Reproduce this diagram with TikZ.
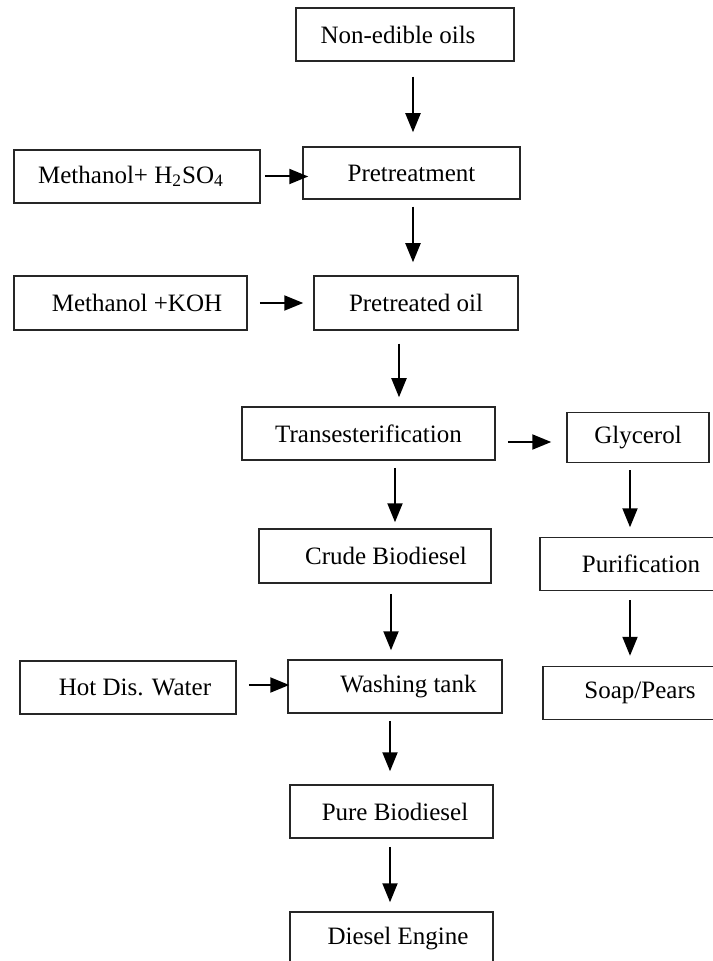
\documentclass[tikz,border=0pt]{standalone}
\usepackage{fontspec}
\setmainfont{Liberation Serif}
\usetikzlibrary{arrows.meta}

\tikzset{
  box/.style={draw=black!85, line width=0.75pt, inner sep=0pt,
    font=\fontsize{12.5pt}{15pt}\selectfont},
  flow/.style={-{Triangle[length=9.5pt,width=7.5pt]}, line width=1pt, black}
}

\begin{document}
\begin{tikzpicture}[x=0.5pt, y=-0.5pt]
  \useasboundingbox (0,0) rectangle (712,961);
  % main column
  \node [box, minimum width=109pt, minimum height=26.5pt] (oils) at (405,34.5) {Non-edible oils\hspace*{7pt}};
  \node [box, minimum width=108.5pt, minimum height=26pt] (pretreat) at (411.5,173) {Pretreatment};
  \node [box, minimum width=102pt, minimum height=27pt] (ptoil) at (416,303) {Pretreated oil};
  \node [box, minimum width=126.5pt, minimum height=26.5pt] (trans) at (368.5,433.5) {Transesterification};
  \node [box, minimum width=116pt, minimum height=27pt] (crude) at (375,556) {\hspace*{11pt}Crude Biodiesel};
  \node [box, minimum width=107pt, minimum height=26.5pt] (washing) at (395,686.5) {\hspace*{13.5pt}Washing tank};
  \node [box, minimum width=101.5pt, minimum height=26.5pt] (pure) at (391.5,811.5) {\hspace*{3.5pt}Pure Biodiesel};
  \node [box, minimum width=101.5pt, minimum height=26.5pt] (diesel) at (391.5,938.5) {\hspace*{6.5pt}Diesel Engine};
  % inputs on the left
  \node [box, minimum width=123pt, minimum height=26.5pt] (acid) at (137,176.5) {Methanol+ H\textsubscript{2}SO\textsubscript{4}\hspace*{6pt}};
  \node [box, minimum width=116.5pt, minimum height=27pt] (base) at (130.5,303) {\hspace*{6.5pt}Methanol +KOH};
  \node [box, minimum width=108pt, minimum height=26.5pt] (water) at (128,687.5) {\hspace*{7pt}Hot Dis. Water};
  % by-product branch
  \node [box, minimum width=71pt, minimum height=25pt] (glycerol) at (638,437.5) {Glycerol};
  \node [box, minimum width=101pt, minimum height=26.5pt] (purif) at (641,564) {Purification};
  \node [box, minimum width=97pt, minimum height=26.5pt] (soap) at (640,693) {Soap/Pears};

  \path [flow]
  ([xshift=4pt]oils.south) edge [shorten <=7.5pt, shorten >=7pt] ([xshift=4pt]oils.south |- pretreat.north)
  (acid.east) edge [shorten <=2pt, shorten >=-3pt] (acid.east -| pretreat.west)
  ([xshift=0.75pt]pretreat.south) edge [shorten <=3.5pt, shorten >=6.5pt] ([xshift=0.75pt]pretreat.south |- ptoil.north)
  (base.east) edge [shorten <=6pt, shorten >=5pt] (base.east -| ptoil.west)
  ([xshift=-8.5pt]ptoil.south) edge [shorten <=6.5pt, shorten >=4.5pt] ([xshift=-8.5pt]ptoil.south |- trans.north)
  ([yshift=-4.25pt]trans.east) edge [shorten <=6pt, shorten >=7.5pt] ([yshift=-4.25pt]trans.east -| glycerol.west)
  ([xshift=13.25pt]trans.south) edge [shorten <=3.5pt, shorten >=3pt] ([xshift=13.25pt]trans.south |- crude.north)
  ([xshift=-4pt]glycerol.south) edge [shorten <=3.5pt, shorten >=4.75pt] ([xshift=-4pt]glycerol.south |- purif.north)
  ([xshift=8pt]crude.south) edge [shorten <=5pt, shorten >=4.5pt] ([xshift=8pt]crude.south |- washing.north)
  ([xshift=-5.5pt]purif.south) edge [shorten <=4.5pt, shorten >=5pt] ([xshift=-5.5pt]purif.south |- soap.north)
  ([yshift=1.25pt]water.east) edge [shorten <=6pt, shorten >=-1pt] ([yshift=1.25pt]water.east -| washing.west)
  ([xshift=-2.5pt]washing.south) edge [shorten <=3.5pt, shorten >=6.5pt] ([xshift=-2.5pt]washing.south |- pure.north)
  ([xshift=-0.75pt]pure.south) edge [shorten <=4pt, shorten >=4.5pt] ([xshift=-0.75pt]pure.south |- diesel.north)
  ;
\end{tikzpicture}
\end{document}
